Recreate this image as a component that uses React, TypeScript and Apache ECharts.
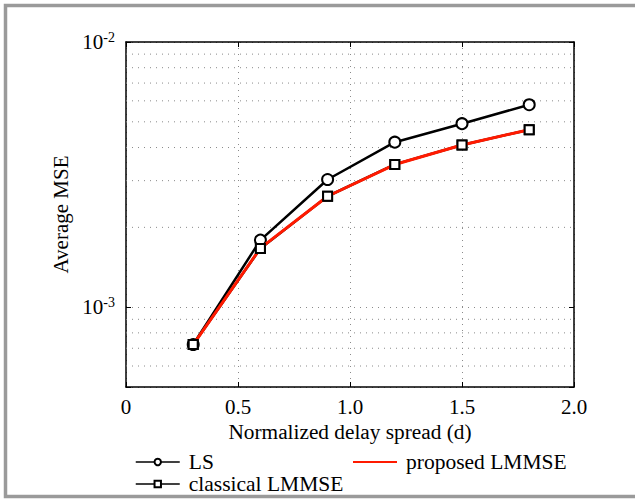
import React, { useEffect, useRef } from 'react';
import * as echarts from 'echarts';

// Data
const delaySpread = [0.3, 0.6, 0.9, 1.2, 1.5, 1.8];
const lsMSE = [7.23e-4, 1.79e-3, 3.03e-3, 4.19e-3, 4.92e-3, 5.8e-3];
const classicalMSE = [7.23e-4, 1.665e-3, 2.62e-3, 3.455e-3, 4.09e-3, 4.67e-3];
const proposedMSE = [7.23e-4, 1.67e-3, 2.62e-3, 3.45e-3, 4.09e-3, 4.67e-3];
const xTickLabels = ['0', '0.5', '1.0', '1.5', '2.0'];
const xRange = [0, 2];
const minorGridValues = [6e-4, 7e-4, 8e-4, 9e-4, 2e-3, 3e-3, 4e-3, 5e-3, 6e-3, 7e-3, 8e-3, 9e-3];

const FONT = 'Liberation Serif';

export default function App() {
  const ref = useRef<HTMLDivElement>(null);
  useEffect(() => {
    if (!ref.current) return;
    const chart = echarts.init(ref.current, undefined, { renderer: 'svg' });
    const pairs = (ys: number[]) => delaySpread.map((x, i) => [x, ys[i]]);
    const dotted = { color: '#8a8a8a', width: 1, type: [1, 5] as any };
    const yFormatter = (v: number) => {
      const e = Math.log10(v);
      if (Math.abs(e - Math.round(e)) < 1e-6) return `{b|10}{s|${Math.round(e)}}`;
      return '';
    };
    const minorSeries = minorGridValues.map((v, i) => ({
      name: `minor-grid-${i}`,
      type: 'line',
      data: xRange.map((x) => [x, v]),
      symbol: 'none',
      silent: true,
      lineStyle: dotted,
      z: 1,
    }));
    const legendText = {
      fontFamily: FONT,
      fontSize: 21.5,
      color: '#000',
      lineHeight: 18,
      padding: [0, 0, 0, 4],
    };
    chart.setOption({
      animation: false,
      backgroundColor: '#fff',
      textStyle: { fontFamily: FONT },
      graphic: [
        {
          type: 'rect',
          shape: { x: 5.5, y: 5.5, width: 700, height: 491 },
          style: { fill: 'none', stroke: '#9a9a9a', lineWidth: 3.5 },
          silent: true,
          z: 0,
        },
      ],
      grid: { left: 126, right: 61, top: 42, bottom: 117, containLabel: false },
      xAxis: [
        {
          type: 'value',
          min: 0,
          max: 2,
          interval: 0.5,
          name: 'Normalized delay spread (d)',
          nameLocation: 'middle',
          nameGap: 33,
          nameTextStyle: { fontFamily: FONT, fontSize: 21.3, color: '#000' },
          axisLine: { show: true, onZero: false, lineStyle: { color: '#000', width: 1.5 } },
          axisTick: { show: true, inside: true, length: 5, lineStyle: { color: '#000', width: 1 } },
          axisLabel: {
            margin: 9,
            fontFamily: FONT,
            fontSize: 21,
            color: '#000',
            formatter: (v: number) => xTickLabels[Math.round(v / 0.5)] ?? '',
          },
          splitLine: { show: true, lineStyle: dotted },
        },
        {
          type: 'value',
          position: 'top',
          min: 0,
          max: 2,
          interval: 0.5,
          axisLine: { show: true, onZero: false, lineStyle: { color: '#000', width: 1.5 } },
          axisTick: { show: true, inside: true, length: 5, lineStyle: { color: '#000', width: 1 } },
          axisLabel: { show: false },
          splitLine: { show: false },
        },
      ],
      yAxis: [
        {
          type: 'log',
          min: 5e-4,
          max: 1e-2,
          logBase: 10,
          name: 'Average MSE',
          nameLocation: 'middle',
          nameGap: 39,
          nameTextStyle: { fontFamily: FONT, fontSize: 21, color: '#000' },
          axisLine: { show: true, onZero: false, lineStyle: { color: '#000', width: 1.5 } },
          axisTick: { show: true, inside: true, length: 5, lineStyle: { color: '#000', width: 1 } },
          axisLabel: {
            margin: 11,
            color: '#000',
            formatter: yFormatter,
            rich: {
              b: { fontFamily: FONT, fontSize: 21, color: '#000' },
              s: { fontFamily: FONT, fontSize: 14, color: '#000', verticalAlign: 'top', padding: [0, 0, 10, 0] },
            },
          },
          splitLine: { show: true, lineStyle: dotted },
        },
        {
          type: 'log',
          position: 'right',
          min: 5e-4,
          max: 1e-2,
          logBase: 10,
          axisLine: { show: true, onZero: false, lineStyle: { color: '#000', width: 1.5 } },
          axisTick: { show: true, inside: true, length: 5, lineStyle: { color: '#000', width: 1 } },
          axisLabel: { show: false },
          splitLine: { show: false },
        },
      ],
      legend: [
        {
          data: [
            { name: 'LS', itemStyle: { borderWidth: 1.5 }, lineStyle: { width: 1.5 } },
            { name: 'classical LMMSE', itemStyle: { borderWidth: 1.5 }, lineStyle: { width: 1.5 } },
          ],
          orient: 'vertical',
          left: 135,
          top: 451,
          padding: 0,
          itemGap: 0,
          itemWidth: 44,
          itemHeight: 8,
          textStyle: legendText,
        },
        {
          data: [{ name: 'proposed LMMSE', icon: 'rect', itemStyle: { color: '#ff1a00' } }],
          orient: 'vertical',
          left: 353,
          top: 451,
          padding: 0,
          itemGap: 0,
          itemWidth: 44,
          itemHeight: 2,
          textStyle: legendText,
        },
      ],
      series: [
        ...minorSeries,
        {
          name: 'LS',
          type: 'line',
          data: pairs(lsMSE),
          symbol: 'emptyCircle',
          symbolSize: 11,
          lineStyle: { color: '#000', width: 2.5 },
          itemStyle: { color: '#000', borderWidth: 2.5 },
          z: 3,
        },
        {
          name: 'classical LMMSE',
          type: 'line',
          data: pairs(classicalMSE),
          symbol: 'emptyRect',
          symbolSize: 9,
          lineStyle: { color: '#000', width: 2.5 },
          itemStyle: { color: '#000', borderWidth: 2.5 },
          z: 3,
        },
        {
          name: 'proposed LMMSE',
          type: 'line',
          data: pairs(proposedMSE),
          showSymbol: false,
          symbol: 'none',
          lineStyle: { color: '#ff1a00', width: 3 },
          itemStyle: { color: '#ff1a00' },
          z: 4,
        },
        {
          name: 'classical LMMSE markers',
          type: 'line',
          data: pairs(classicalMSE),
          symbol: 'emptyRect',
          symbolSize: 9,
          lineStyle: { opacity: 0 },
          itemStyle: { color: '#000', borderWidth: 2.5 },
          z: 5,
        },
      ],
    });
    return () => chart.dispose();
  }, []);
  return (
    <div
      ref={ref}
      style={{ position: 'fixed', left: 0, top: 0, width: 635, height: 504, background: '#fff' }}
    />
  );
}
